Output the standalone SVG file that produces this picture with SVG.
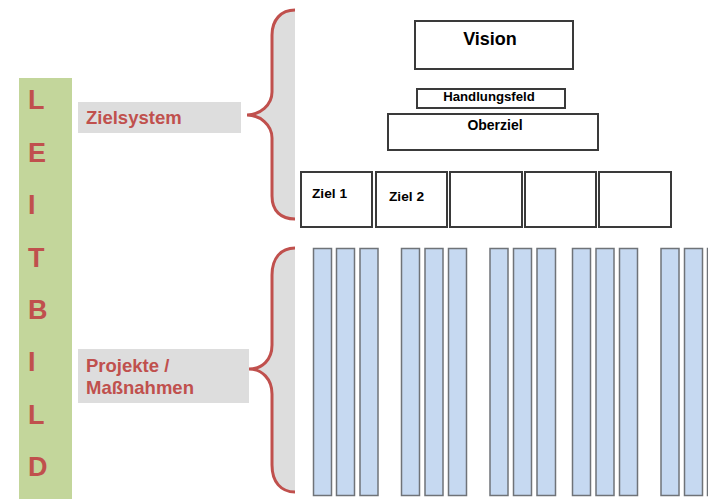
<svg xmlns="http://www.w3.org/2000/svg" width="708" height="499" viewBox="0 0 708 499">
<defs>
<style>
.red{fill:#C0504D;font-family:"Liberation Sans",Arial,sans-serif;font-weight:bold}
.letter{font-size:27px}
.lbl{font-size:18.5px}
.lblbg{fill:#DDDDDD}
.brace{fill:none;stroke:#C0504D;stroke-width:3}
.bracefill{fill:#DDDDDD;stroke:none}
.box{fill:#FFFFFF;stroke:#3a3a3a;stroke-width:2}
.bt{font-family:"Liberation Sans",Arial,sans-serif;font-weight:bold;fill:#000}
.bar{fill:#C6D9F1;stroke:#6f7378;stroke-width:1.5}
</style>
</defs>
<rect width="708" height="499" fill="#FFFFFF"/>

<g id="leitbild">
<rect x="19" y="78" width="53" height="421" fill="#C3D69B"/>
<text class="red letter" x="28" y="109">L</text>
<text class="red letter" x="28" y="162">E</text>
<text class="red letter" x="28" y="214">I</text>
<text class="red letter" x="28" y="267">T</text>
<text class="red letter" x="28" y="319">B</text>
<text class="red letter" x="28" y="371">I</text>
<text class="red letter" x="28" y="424">L</text>
<text class="red letter" x="28" y="476">D</text>
</g>

<g id="zielsystem-label">
<rect class="lblbg" x="78" y="102" width="163" height="31"/>
<text class="red lbl" x="86" y="124">Zielsystem</text>
</g>

<g id="projekte-label">
<rect class="lblbg" x="78" y="349" width="171" height="54"/>
<text class="red lbl" x="86" y="372">Projekte /</text>
<text class="red lbl" x="86" y="394">Maßnahmen</text>
</g>

<g id="connectors">
<path class="bracefill" d="M295,10 C281,10 272,20 272,35 L272,92 C272,105 260,115 247,115 C260,115 272,125 272,138 L272,196 C272,211 281,219 295,219 Z"/>
<path class="brace" d="M295,10 C281,10 272,20 272,35 L272,92 C272,105 260,115 247,115 C260,115 272,125 272,138 L272,196 C272,211 281,219 295,219"/>
<path class="bracefill" d="M295,248 C281,248 272,258 272,275 L272,345 C272,360 262,369 249,369 C262,369 272,379 272,394 L272,465 C272,482 281,492 295,492 Z"/>
<path class="brace" d="M295,248 C281,248 272,258 272,275 L272,345 C272,360 262,369 249,369 C262,369 272,379 272,394 L272,465 C272,482 281,492 295,492"/>
</g>

<g id="vision">
<rect class="box" x="415" y="21" width="158" height="48"/>
<text class="bt" x="490" y="45" font-size="18" text-anchor="middle">Vision</text>
</g>
<g id="handlungsfeld">
<rect class="box" x="417" y="89" width="148" height="19"/>
<text class="bt" x="489" y="101" font-size="13.2" text-anchor="middle">Handlungsfeld</text>
</g>
<g id="oberziel">
<rect class="box" x="388" y="114" width="210" height="36"/>
<text class="bt" x="495" y="130" font-size="14" text-anchor="middle">Oberziel</text>
</g>
<g id="ziel1">
<rect class="box" x="301" y="172" width="71" height="55"/>
<text class="bt" x="312" y="198" font-size="13.7">Ziel 1</text>
</g>
<g id="ziel2">
<rect class="box" x="376" y="172" width="71" height="55"/>
<text class="bt" x="389" y="200.5" font-size="13.7">Ziel 2</text>
</g>
<g id="ziel3"><rect class="box" x="450" y="172" width="72" height="55"/></g>
<g id="ziel4"><rect class="box" x="525" y="172" width="71" height="55"/></g>
<g id="ziel5"><rect class="box" x="599" y="172" width="72" height="55"/></g>

<g id="massnahmen">
<rect class="bar" x="313.5" y="248.5" width="18" height="247"/>
<rect class="bar" x="336.5" y="248.5" width="18" height="247"/>
<rect class="bar" x="360" y="248.5" width="18" height="247"/>
<rect class="bar" x="401.5" y="248.5" width="18" height="247"/>
<rect class="bar" x="425" y="248.5" width="18" height="247"/>
<rect class="bar" x="448.5" y="248.5" width="18" height="247"/>
<rect class="bar" x="490" y="248.5" width="18" height="247"/>
<rect class="bar" x="513.5" y="248.5" width="18" height="247"/>
<rect class="bar" x="537" y="248.5" width="18.5" height="247"/>
<rect class="bar" x="572.5" y="248.5" width="18" height="247"/>
<rect class="bar" x="596" y="248.5" width="18" height="247"/>
<rect class="bar" x="619.5" y="248.5" width="18" height="247"/>
<rect class="bar" x="661" y="248.5" width="18" height="247"/>
<rect class="bar" x="684.5" y="248.5" width="18" height="247"/>
<rect class="bar" x="707.5" y="248.5" width="18" height="247"/>
</g>
</svg>
